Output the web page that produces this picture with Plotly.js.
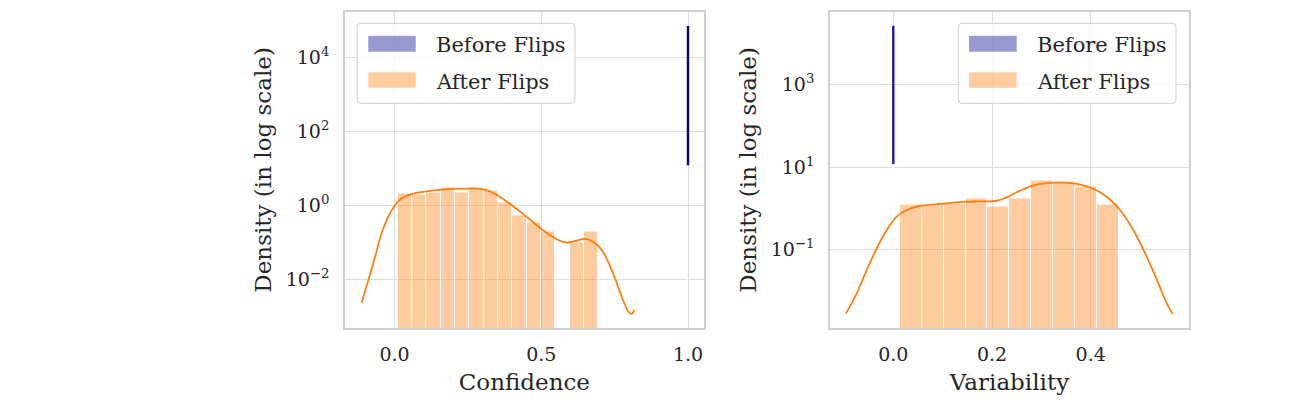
<!DOCTYPE html>
<html>
<head>
<meta charset="utf-8">
<script src="https://cdn.plot.ly/plotly-3.0.1.min.js"></script>
<style>
  html, body { margin: 0; padding: 0; background: #fff; }
  #chart { width: 1298px; height: 400px; }
</style>
</head>
<body>
<div id="chart"></div>
<script>
// --- data ---
// Confidence histogram (after flips), density per bin
let confBinCenters = [0.0353, 0.0841, 0.1329, 0.1817, 0.2305, 0.2793, 0.3281, 0.3769, 0.4257, 0.4745, 0.5233, 0.5721, 0.6209, 0.6697];
let confBinWidth = 0.0488;
let confAfter = [2.01, 1.97, 2.18, 3.05, 2.27, 2.86, 2.57, 1.17, 0.533, 0.337, 0.192, 0, 0.097, 0.192];

// KDE of confidence (after flips)
let confKdeX = [-0.112, -0.089, -0.066, -0.044, -0.021, 0.002, 0.025, 0.059, 0.115, 0.172, 0.229, 0.286, 0.320, 0.354, 0.399, 0.456, 0.513, 0.558, 0.587, 0.615, 0.649, 0.677, 0.706, 0.740, 0.774, 0.797, 0.808, 0.817];
let confKdeY = [0.00232, 0.00955, 0.0407, 0.174, 0.49, 1.01, 1.55, 2.0, 2.4, 2.69, 2.79, 2.79, 2.45, 1.78, 1.01, 0.443, 0.192, 0.115, 0.098, 0.107, 0.123, 0.102, 0.062, 0.0178, 0.0034, 0.00132, 0.00115, 0.00148];

// before flips: everything piles up at confidence 1.0
let confBeforeX = [1.0, 1.0];
let confBeforeY = [12.0, 69700];

// Variability histogram (after flips)
let varBinCenters = [0.0358, 0.0801, 0.1244, 0.1687, 0.2130, 0.2573, 0.3016, 0.3459, 0.3902, 0.4345];
let varBinWidth = 0.0443;
let varAfter = [1.23, 1.19, 1.33, 1.69, 1.10, 1.71, 4.67, 4.41, 3.34, 1.23];

let varKdeX = [-0.0958, -0.0742, -0.0539, -0.0336, -0.0134, 0.0069, 0.0272, 0.0541, 0.0946, 0.1418, 0.1757, 0.2095, 0.2298, 0.2567, 0.2906, 0.3311, 0.3647, 0.3986, 0.4324, 0.4594, 0.4863, 0.5135, 0.537, 0.5541, 0.5662];
let varKdeY = [0.00292, 0.0089, 0.0325, 0.1086, 0.30, 0.63, 0.914, 1.143, 1.276, 1.43, 1.48, 1.53, 1.85, 2.68, 3.74, 4.18, 4.04, 3.24, 1.92, 0.914, 0.30, 0.0682, 0.0155, 0.0051, 0.0028];

// before flips: everything at variability 0.0
let varBeforeX = [0.0, 0.0];
let varBeforeY = [11.8, 25900];

let confTicks = [0, 0.5, 1.0];
let confTickText = ['0.0', '0.5', '1.0'];
let varTicks = [0, 0.2, 0.4];
let varTickText = ['0.0', '0.2', '0.4'];
let confYTicks = [0.01, 1, 100, 10000];
let confYTickText = ['10<sup>\u22122</sup>', '10<sup>0</sup>', '10<sup>2</sup>', '10<sup>4</sup>'];
let varYTicks = [0.1, 10, 1000];
let varYTickText = ['10<sup>\u22121</sup>', '10<sup>1</sup>', '10<sup>3</sup>'];

let seriesNames = ['Before Flips', 'After Flips'];

// --- styling ---
const FONT = 'DejaVu Serif, Georgia, serif';
const TXT = '#262626';
const ORANGE = '#ff7f0e';
const ORANGE_FILL = 'rgba(255,127,14,0.4)';
const NAVY_FILL = 'rgba(0,0,139,0.4)';
const W = 1298, H = 400;

function px(x) { return x / W; }
function py(y) { return 1 - y / H; }

function histTrace(x, y, w, xa, ya, fill) {
    return {
        type: 'bar', x: x, y: y, width: w,
        xaxis: xa, yaxis: ya,
        marker: {color: fill, line: {color: '#ffffff', width: 1}},
        hoverinfo: 'skip'
    };
}
function lineTrace(x, y, xa, ya, color, width, spline) {
    return {
        type: 'scatter', mode: 'lines', x: x, y: y,
        xaxis: xa, yaxis: ya,
        line: {color: color, width: width, shape: spline ? 'spline' : 'linear'},
        hoverinfo: 'skip'
    };
}

let traces = [
    histTrace(confBinCenters, confAfter, confBinWidth, 'x', 'y', ORANGE_FILL),
    histTrace([confBeforeX[0]], [confBeforeY[1]], 0.002, 'x', 'y', NAVY_FILL),
    lineTrace(confKdeX, confKdeY, 'x', 'y', ORANGE, 1.8, true),
    lineTrace(confBeforeX, confBeforeY, 'x', 'y', '#00008b', 2.4, false),

    histTrace(varBinCenters, varAfter, varBinWidth, 'x2', 'y2', ORANGE_FILL),
    histTrace([varBeforeX[0]], [varBeforeY[1]], 0.002, 'x2', 'y2', NAVY_FILL),
    lineTrace(varKdeX, varKdeY, 'x2', 'y2', ORANGE, 1.8, true),
    lineTrace(varBeforeX, varBeforeY, 'x2', 'y2', '#1a1aa6', 2.4, false)
];

function xAxis(domain, range, ticks, text, title) {
    return {
        domain: domain, range: range,
        tickvals: ticks, ticktext: text,
        showgrid: true, gridcolor: '#dcdcdc', gridwidth: 1.4,
        showline: true, mirror: true, linecolor: '#cfcfcf', linewidth: 1.5,
        zeroline: false, ticks: '', ticklabelstandoff: 8,
        tickfont: {family: FONT, size: 19, color: TXT},
        title: {text: title, font: {family: FONT, size: 23, color: TXT}, standoff: 10}
    };
}
function yAxis(domain, range, ticks, text, anchor) {
    return {
        domain: domain, range: range, type: 'log', anchor: anchor,
        tickvals: ticks, ticktext: text,
        showgrid: true, gridcolor: '#dcdcdc', gridwidth: 1.4,
        showline: true, mirror: true, linecolor: '#cfcfcf', linewidth: 1.5,
        zeroline: false, ticks: '', ticklabelstandoff: 10,
        tickfont: {family: FONT, size: 19, color: TXT},
        title: {text: 'Density (in log scale)', font: {family: FONT, size: 23, color: TXT}, standoff: 8}
    };
}

function roundRect(x0, y0, x1, y1, r) {
    // pixel coords -> paper path with rounded corners
    let a = px(x0), b = px(x1), t = py(y0), u = py(y1);
    let rx = r / W, ry = r / H;
    return 'M' + (a + rx) + ',' + t + ' L' + (b - rx) + ',' + t +
        ' Q' + b + ',' + t + ' ' + b + ',' + (t - ry) +
        ' L' + b + ',' + (u + ry) + ' Q' + b + ',' + u + ' ' + (b - rx) + ',' + u +
        ' L' + (a + rx) + ',' + u + ' Q' + a + ',' + u + ' ' + a + ',' + (u + ry) +
        ' L' + a + ',' + (t - ry) + ' Q' + a + ',' + t + ' ' + (a + rx) + ',' + t + ' Z';
}

let shapes = [];
let annotations = [];
function legendBox(x0, x1, patchX0, patchX1, textX) {
    shapes.push({type: 'path', xref: 'paper', yref: 'paper', layer: 'above',
        path: roundRect(x0, 23.3, x1, 103.3, 4),
        fillcolor: 'rgba(255,255,255,0.8)', line: {color: '#d6d6d6', width: 1.2}});
    let fills = [NAVY_FILL, ORANGE_FILL];
    let rows = [[35.7, 51.7], [72.3, 87.7]];
    for (let i = 0; i < 2; i++) {
        shapes.push({type: 'rect', xref: 'paper', yref: 'paper', layer: 'above',
            x0: px(patchX0), x1: px(patchX1), y0: py(rows[i][0]), y1: py(rows[i][1]),
            fillcolor: fills[i], line: {width: 0}});
        annotations.push({xref: 'paper', yref: 'paper', x: px(textX), y: py((rows[i][0] + rows[i][1]) / 2 + 1.5),
            xanchor: 'left', yanchor: 'middle', showarrow: false, text: seriesNames[i],
            font: {family: FONT, size: 21, color: TXT}});
    }
}
legendBox(357.3, 575, 368.3, 415.7, 434);
legendBox(958.3, 1176, 969, 1016.7, 1035);

let layout = {
    width: W, height: H,
    margin: {l: 0, r: 0, t: 0, b: 0},
    paper_bgcolor: '#ffffff', plot_bgcolor: '#ffffff',
    showlegend: false, barmode: 'overlay', bargap: 0,
    xaxis: xAxis([345 / W, 703.7 / W], [-0.1687, 1.0535], confTicks, confTickText, 'Confidence'),
    yaxis: yAxis([py(328.3), py(11.5)], [-3.327, 5.235], confYTicks, confYTickText, 'x'),
    xaxis2: xAxis([830 / W, 1189 / W], [-0.1283, 0.5992], varTicks, varTickText, 'Variability'),
    yaxis2: yAxis([py(328.3), py(11.5)], [-2.896, 4.756], varYTicks, varYTickText, 'x2'),
    shapes: shapes,
    annotations: annotations
};
layout.xaxis.anchor = 'y';
layout.xaxis2.anchor = 'y2';

Plotly.newPlot('chart', traces, layout, {displayModeBar: false});
</script>
</body>
</html>
